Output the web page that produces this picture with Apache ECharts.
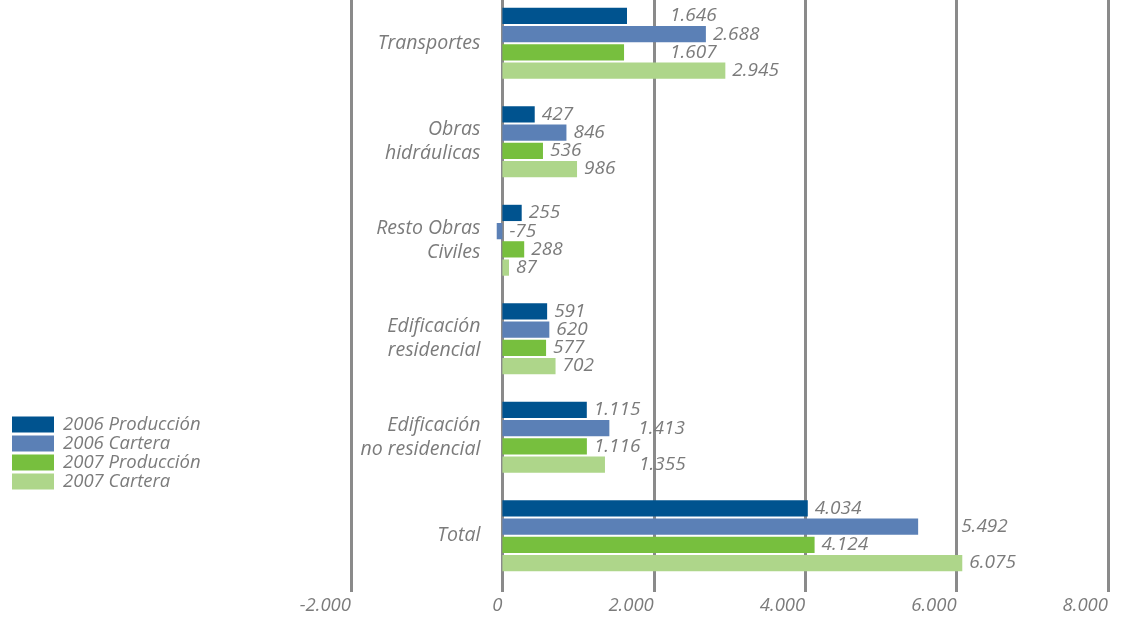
<!DOCTYPE html>
<html>
<head>
<meta charset="utf-8">
<script src="https://cdn.jsdelivr.net/npm/echarts@6/dist/echarts.min.js"></script>
<style>
  html, body { margin: 0; padding: 0; background: #fff; }
  #chart { width: 1128px; height: 628px; }
</style>
</head>
<body>
<div id="chart"></div>
<script>
// categories, top to bottom
const categories = ['Transportes', 'Obras\nhidráulicas', 'Resto Obras\nCiviles', 'Edificación\nresidencial', 'Edificación\nno residencial', 'Total'];
const seriesNames = ['2006 Producción', '2006 Cartera', '2007 Producción', '2007 Cartera'];
const prod2006 = [1646, 427, 255, 591, 1115, 4034];
const cart2006 = [2688, 846, -75, 620, 1413, 5492];
const prod2007 = [1607, 536, 288, 577, 1116, 4124];
const cart2007 = [2945, 986, 87, 702, 1355, 6075];
const xTicks = [-2000, 0, 2000, 4000, 6000, 8000];

const colors = ['#00538f', '#5b80b6', '#77bf3e', '#aed68a'];
const grey = '#7b7b7b';
const lineGrey = '#8a8a8a';
const font = '"Open Sans", "Noto Sans", sans-serif';

// some labels are pushed further right in the original
const nudge = { '0-0': 36, '2-0': 39, '1-4': 22, '3-4': 27, '1-5': 36 };

const gridLeft = 351, gridRight = 20;
// category labels sit at the zero line, not at the grid edge
const zeroX = gridLeft + (1128 - gridLeft - gridRight) * (0 - xTicks[0]) / (xTicks[xTicks.length - 1] - xTicks[0]);

function fmt(v) {
    let s = String(Math.abs(v)).replace(/\B(?=(\d{3})+(?!\d))/g, '.');
    return (v < 0 ? '-' : '') + s;
}

let chart = echarts.init(document.getElementById('chart'));

let values = [prod2006, cart2006, prod2007, cart2007];
let series = values.map((arr, si) => ({
    name: seriesNames[si],
    type: 'bar',
    barCategoryGap: '28%',
    barGap: '12%',
    itemStyle: { color: colors[si] },
    label: {
        show: true,
        position: 'right',
        distance: 7,
        color: grey,
        fontSize: 19,
        fontStyle: 'italic',
        fontFamily: font,
        formatter: p => fmt(p.value)
    },
    data: arr.map((v, ci) => {
        let d = { value: v };
        let k = si + '-' + ci;
        if (nudge[k]) d.label = { offset: [nudge[k], 0] };
        return d;
    })
}));

chart.setOption({
    backgroundColor: '#fff',
    animation: false,
    legend: {
        orient: 'vertical',
        left: 12,
        top: 415,
        padding: 0,
        itemWidth: 42,
        itemHeight: 16,
        itemGap: 0,
        icon: 'rect',
        textStyle: {
            color: grey,
            fontSize: 18.5,
            fontStyle: 'italic',
            fontFamily: font,
            padding: [0, 0, 0, 4]
        },
        data: seriesNames
    },
    grid: {
        left: gridLeft,
        right: gridRight,
        top: -6,
        bottom: 43,
        containLabel: false,
        outerBoundsMode: 'none'
    },
    xAxis: {
        type: 'value',
        min: xTicks[0],
        max: xTicks[xTicks.length - 1],
        interval: 2000,
        axisLine: { show: false },
        axisTick: { show: true, length: 7, lineStyle: { color: lineGrey, width: 3 } },
        splitLine: { show: true, lineStyle: { color: lineGrey, width: 3 } },
        axisLabel: {
            color: grey,
            fontSize: 18.5,
            fontStyle: 'italic',
            fontFamily: font,
            margin: 11,
            align: 'right',
            formatter: v => fmt(v)
        }
    },
    yAxis: {
        type: 'category',
        inverse: true,
        data: categories,
        offset: gridLeft - zeroX,
        axisLine: { show: false, onZero: false },
        axisTick: { show: false },
        axisLabel: {
            color: grey,
            fontSize: 19.5,
            fontStyle: 'italic',
            fontFamily: font,
            lineHeight: 24,
            margin: 22,
            align: 'right'
        }
    },
    series: series
});
</script>
</body>
</html>
